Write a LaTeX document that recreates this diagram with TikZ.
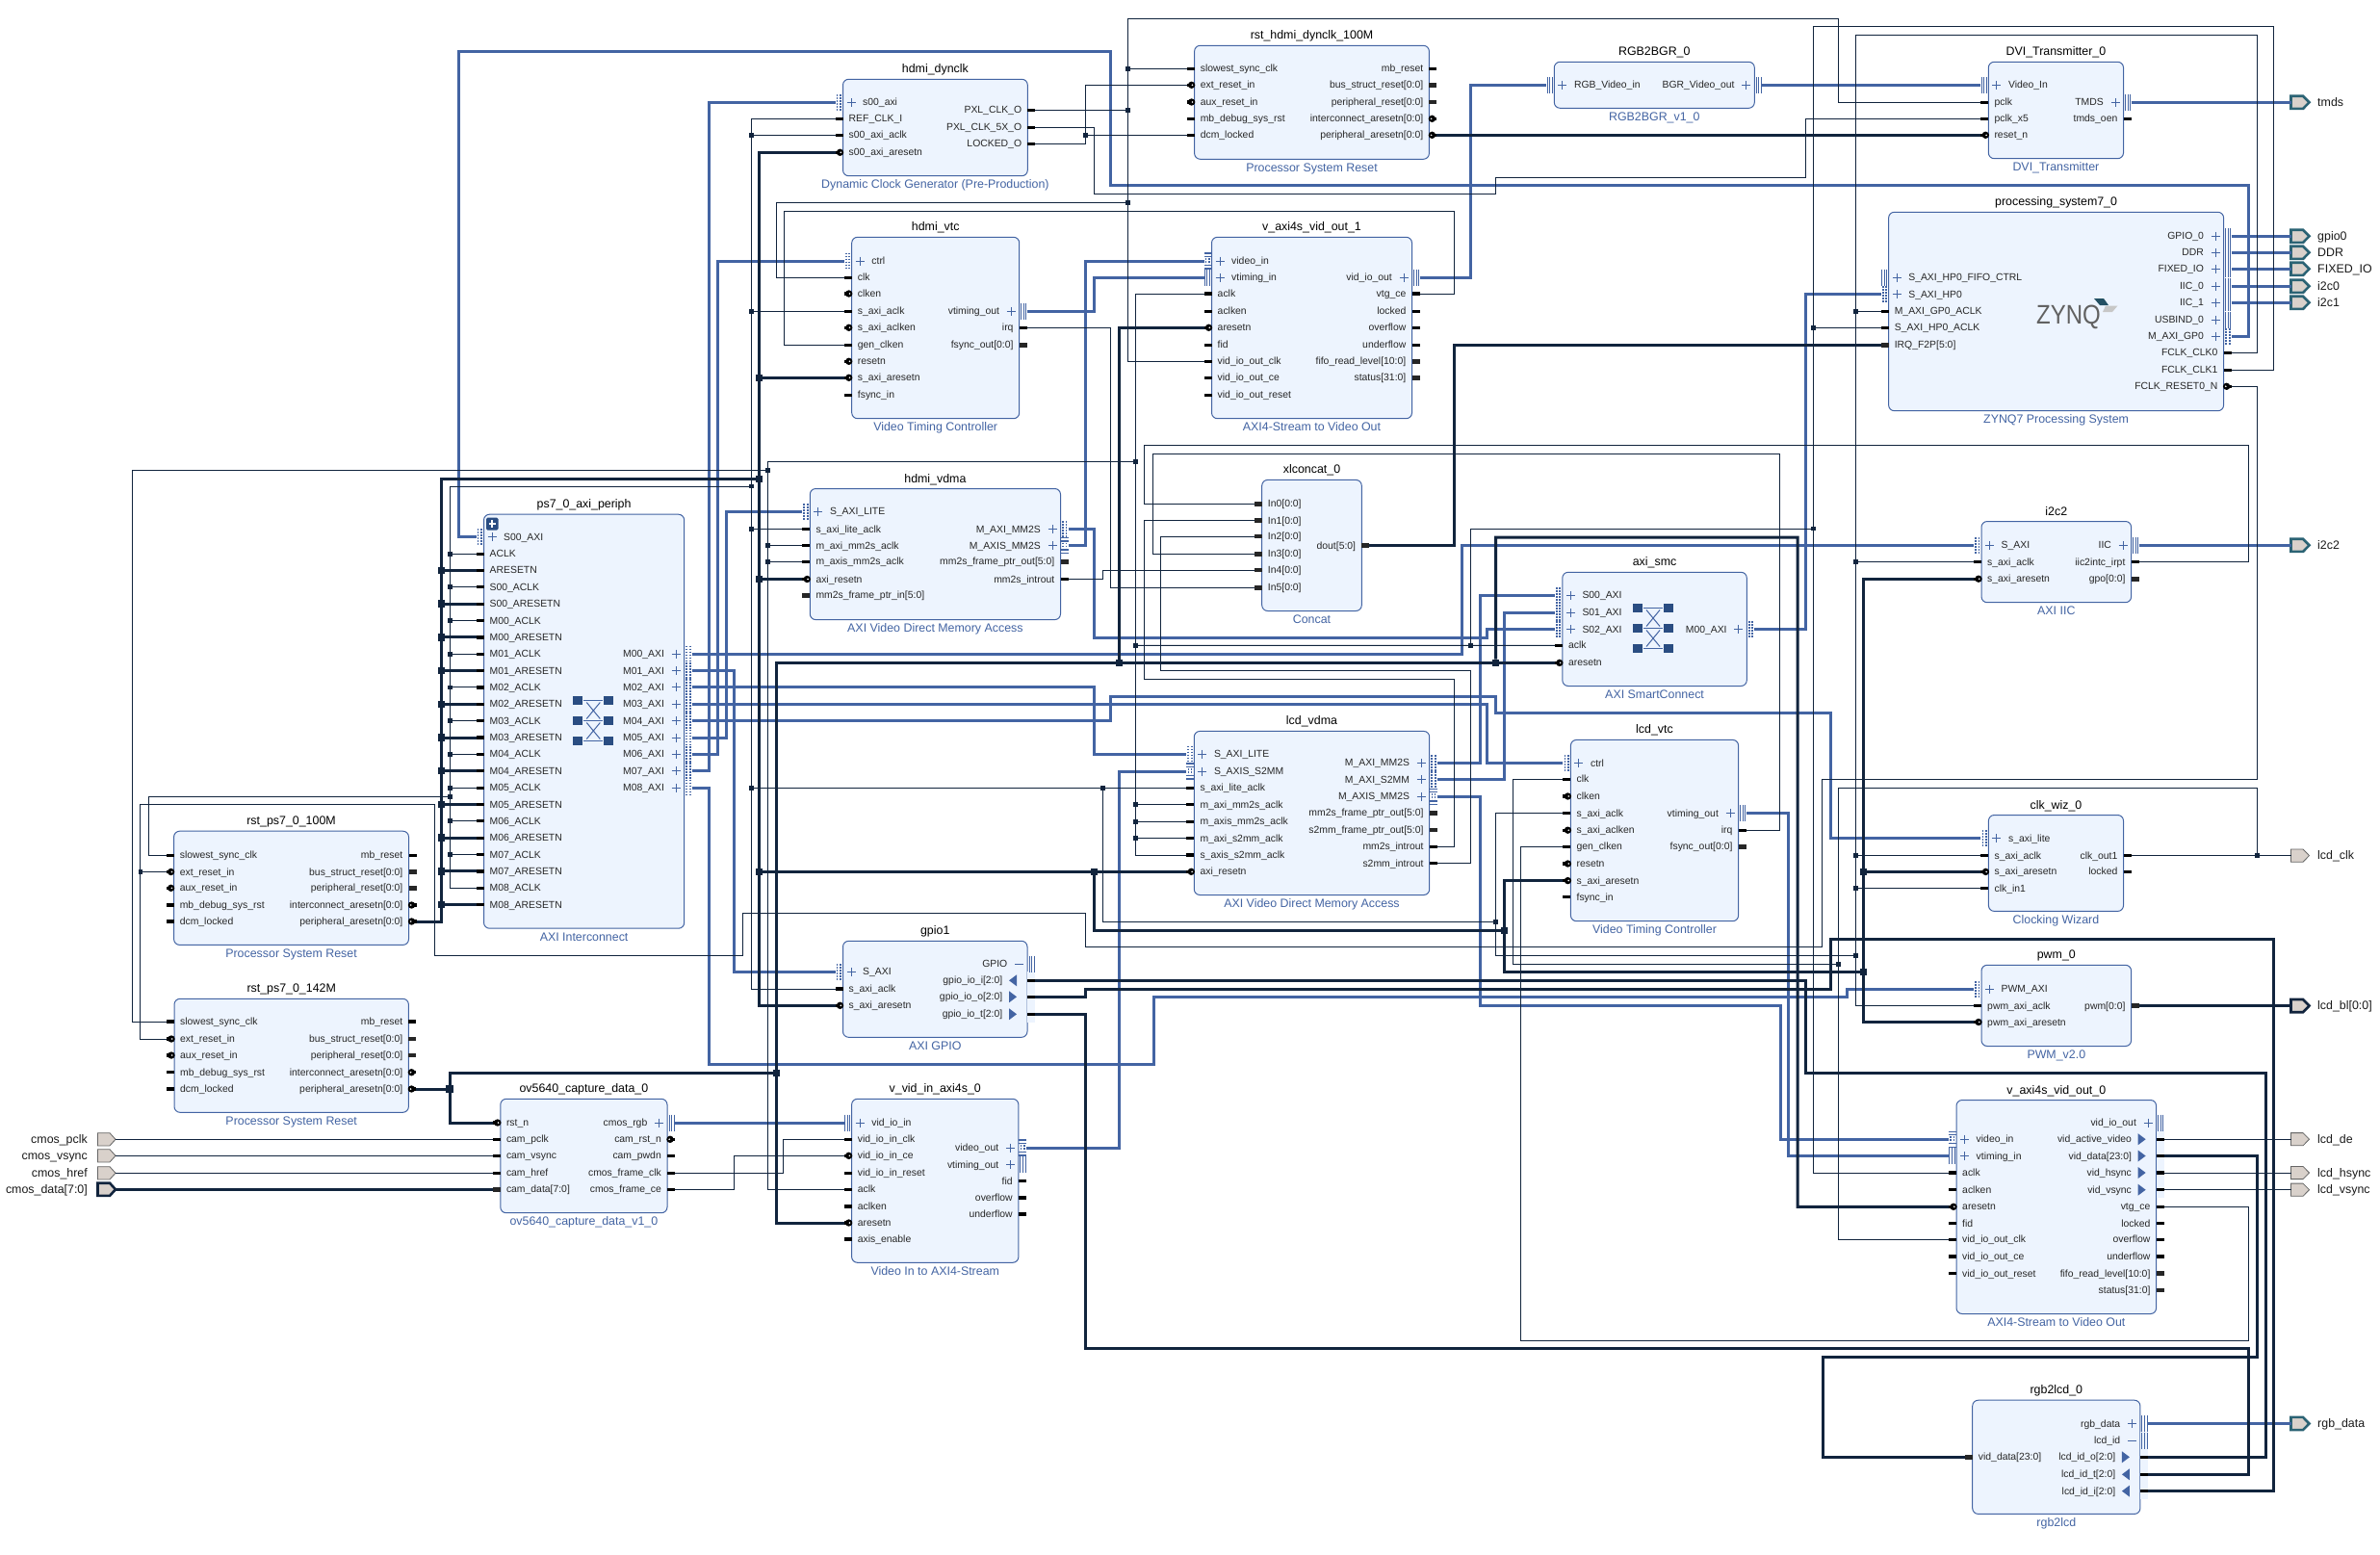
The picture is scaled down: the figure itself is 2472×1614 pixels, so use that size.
\documentclass[tikz,border=0pt]{standalone}
\usepackage{fontspec}
\usepackage{graphicx}
\setmainfont{Liberation Sans}
\definecolor{navy}{HTML}{11243D}
\definecolor{ablue}{HTML}{4364A3}
\definecolor{bfill}{HTML}{EDF4FE}
\definecolor{xbeige}{HTML}{D9D1CB}
\definecolor{xteal}{HTML}{2B6374}
\definecolor{logoblue}{HTML}{2A4D82}
\AtBeginDocument{\catcode`\_=12 }
\tikzset{
 blockbox/.style={draw=ablue,line width=1pt,fill=bfill,rounded corners=6pt,inner sep=0pt,outer sep=0pt},
 ttl/.style={font=\fontsize{12.4}{14}\selectfont,inner sep=0pt,text=black,anchor=base},
 subt/.style={font=\fontsize{12.4}{14}\selectfont,inner sep=0pt,text=ablue,anchor=base},
 plab/.style={font=\fontsize{10.4}{12}\selectfont,inner sep=0pt,text=black!85},
 xlab/.style={font=\fontsize{12.4}{14}\selectfont,inner sep=0pt,text=black!90},
 clkw/.style={draw=navy,line width=1pt},
 rstw/.style={draw=navy,line width=3pt},
 axiw/.style={draw=ablue,line width=3pt},
 jc/.style={fill=navy,inner sep=0pt,minimum size=4.8pt,outer sep=0pt},
 jt/.style={fill=navy,inner sep=0pt,minimum size=7.5pt,outer sep=0pt},
 pinl/.style={draw=ablue,line width=0.9pt},
 dotpin/.style={draw=ablue,line width=1.8pt,dash pattern=on 1.7pt off 1.3pt},
 xs/.style={fill=xbeige,draw=black!60,line width=0.8pt},
 xb/.style={fill=xbeige,draw=navy,line width=2.6pt},
 xi/.style={fill=xbeige,draw=xteal,line width=2.6pt},
}
\newcommand\blk[7]{%
 \def\bxa{#2}\def\bxb{#4}\def\bid{#1}%
 \node[blockbox,minimum width={#4-#2},minimum height={#5-#3}] (#1) at ({(#2+#4)/2},{(#3+#5)/2}) {};%
 \node[ttl] (#1-title) at ({(#2+#4)/2},{#3-6.5}) {#6};%
 \node[subt] (#1-sub) at ({(#2+#4)/2},{#5+12.8}) {#7};%
}
\newcommand\plusmark{%
 \draw[pinl] ({\pe-\pd*8.5-4.5},\py) -- ({\pe-\pd*8.5+4.5},\py);%
 \draw[pinl] ({\pe-\pd*8.5},{\py-4.5}) -- ({\pe-\pd*8.5},{\py+4.5});%
}
\newcommand\triple{%
 \foreach \tt in {2,4.6,7.2}{\draw[pinl] ({\pe+\pd*\tt},{\py-8.5}) -- ({\pe+\pd*\tt},{\py+8.5});}%
}
\newcommand\pkS{\def\po{6}\fill[black] (\pe,{\py-1.6}) rectangle ({\pe+\pd*8},{\py+1.6});}
\newcommand\pkB{\def\po{6}\fill[black!85] (\pe,{\py-2.4}) rectangle ({\pe+\pd*8},{\py+2.4});}
\newcommand\pkR{\def\po{6}\fill[black] (\pe,{\py-1.6}) rectangle ({\pe+\pd*8},{\py+1.6});%
 \fill[black] ({\pe+\pd*3},\py) circle (3.7);\fill[white] ({\pe+\pd*2.2},\py) circle (0.9);}
\newcommand\pkA{\def\po{20.5}\plusmark
 \draw[dotpin] ({\pe+\pd*2.6},{\py-8.5}) -- ({\pe+\pd*2.6},{\py+8.5});%
 \draw[dotpin] ({\pe+\pd*6},{\py-8.5}) -- ({\pe+\pd*6},{\py+8.5});}
\newcommand\pkV{\def\po{20.5}\plusmark\triple}
\newcommand\pkM{\def\po{20.5}\plusmark
 \foreach \tt in {-8,-4.6,4.6,8}{\draw[pinl,line width=1.3pt] (\pe,{\py+\tt}) -- ({\pe+\pd*8},{\py+\tt});}%
 \draw[dotpin,line width=1.4pt] ({\pe+\pd*2.6},{\py-3}) -- ({\pe+\pd*2.6},{\py+3});%
 \draw[dotpin,line width=1.4pt] ({\pe+\pd*6},{\py-3}) -- ({\pe+\pd*6},{\py+3});}
\newcommand\pkN{\def\po{20.5}\triple\draw[pinl] ({\pe-\pd*13},\py) -- ({\pe-\pd*4},\py);}
\newcommand\pkO{\def\po{25.5}\fill[black] (\pe,{\py-1.6}) rectangle ({\pe+\pd*8},{\py+1.6});%
 \fill[ablue] ({\pe-19},{\py-6}) -- ({\pe-11},\py) -- ({\pe-19},{\py+6}) -- cycle;}
\newcommand\pkI{\def\po{25.5}\fill[black] (\pe,{\py-1.6}) rectangle ({\pe+\pd*8},{\py+1.6});%
 \fill[ablue] ({\pe-11},{\py-6}) -- ({\pe-19},\py) -- ({\pe-11},{\py+6}) -- cycle;}
\newcommand\pin[5]{%
 \def\py{#3}%
 \ifx L#2\def\pe{\bxa}\def\pd{-1}\def\pan{base west}\else\def\pe{\bxb}\def\pd{1}\def\pan{base east}\fi
 \coordinate (\bid-#1) at ({\pe+\pd*8},\py);%
 \csname pk#4\endcsname
 \node[plab,anchor=\pan] (\bid-#1-l) at ({\pe-\pd*\po},{\py+3.5}) {#5};%
}
\newcommand\xout[4]{%
 \draw[#4] (2379.5,{#2-6.6}) -- (2392,{#2-6.6}) -- (2398.5,#2) -- (2392,{#2+6.6}) -- (2379.5,{#2+6.6}) -- cycle;%
 \coordinate (x-#1) at (2379.5,#2);%
 \node[xlab,anchor=base west] (x-#1-l) at (2407,{#2+4.2}) {#3};%
}
\newcommand\xin[4]{%
 \draw[#4] (101.5,{#2-6.6}) -- (114,{#2-6.6}) -- (120,#2) -- (114,{#2+6.6}) -- (101.5,{#2+6.6}) -- cycle;%
 \coordinate (x-#1) at (120,#2);%
 \node[xlab,anchor=base east] (x-#1-l) at (91,{#2+4.2}) {#3};%
}
\newcommand\xbarlogo[2]{%
 \foreach \ry in {-21,0,21}{%
  \fill[logoblue] ({#1-21},{#2+\ry-4.5}) rectangle ({#1-11},{#2+\ry+4.5});%
  \fill[logoblue] ({#1+11},{#2+\ry-4.5}) rectangle ({#1+21},{#2+\ry+4.5});%
  \draw[ablue,line width=1.2pt] ({#1-10},{#2+\ry}) -- ({#1+10},{#2+\ry});%
 }%
 \draw[ablue,line width=1pt] ({#1-7},{#2-19}) -- ({#1+7},{#2-2}) ({#1+7},{#2-19}) -- ({#1-7},{#2-2});%
 \draw[ablue,line width=1pt] ({#1-7},{#2+2}) -- ({#1+7},{#2+19}) ({#1+7},{#2+2}) -- ({#1-7},{#2+19});%
}
\begin{document}
\begin{tikzpicture}[x=1pt,y=-1pt]
\useasboundingbox (0,0) rectangle (2472,1614);
\fill[white] (0,0) rectangle (2472,1614);
% ---------- blocks ----------
\blk{axi}{502.5}{534.2}{710.7}{964.2}{ps7_0_axi_periph}{AXI Interconnect}
\pin{S0}{L}{557.7}{A}{S00_AXI}
\pin{aclk}{L}{575.1}{S}{ACLK}
\pin{arst}{L}{592.4}{S}{ARESETN}
\pin{s0c}{L}{609.8}{S}{S00_ACLK}
\pin{s0r}{L}{627.1}{S}{S00_ARESETN}
\pin{m0c}{L}{644.5}{S}{M00_ACLK}
\pin{m0r}{L}{661.9}{S}{M00_ARESETN}
\pin{m1c}{L}{679.2}{S}{M01_ACLK}
\pin{m1r}{L}{696.6}{S}{M01_ARESETN}
\pin{m2c}{L}{713.9}{S}{M02_ACLK}
\pin{m2r}{L}{731.3}{S}{M02_ARESETN}
\pin{m3c}{L}{748.7}{S}{M03_ACLK}
\pin{m3r}{L}{766.0}{S}{M03_ARESETN}
\pin{m4c}{L}{783.4}{S}{M04_ACLK}
\pin{m4r}{L}{800.7}{S}{M04_ARESETN}
\pin{m5c}{L}{818.1}{S}{M05_ACLK}
\pin{m5r}{L}{835.5}{S}{M05_ARESETN}
\pin{m6c}{L}{852.8}{S}{M06_ACLK}
\pin{m6r}{L}{870.2}{S}{M06_ARESETN}
\pin{m7c}{L}{887.5}{S}{M07_ACLK}
\pin{m7r}{L}{904.9}{S}{M07_ARESETN}
\pin{m8c}{L}{922.3}{S}{M08_ACLK}
\pin{m8r}{L}{939.6}{S}{M08_ARESETN}
\pin{M0}{R}{679.2}{A}{M00_AXI}
\pin{M1}{R}{696.6}{A}{M01_AXI}
\pin{M2}{R}{713.9}{A}{M02_AXI}
\pin{M3}{R}{731.3}{A}{M03_AXI}
\pin{M4}{R}{748.7}{A}{M04_AXI}
\pin{M5}{R}{766.0}{A}{M05_AXI}
\pin{M6}{R}{783.4}{A}{M06_AXI}
\pin{M7}{R}{800.7}{A}{M07_AXI}
\pin{M8}{R}{818.1}{A}{M08_AXI}
\xbarlogo{616.3}{748.5}
\fill[logoblue,rounded corners=1.5pt] (505,537.5) rectangle (517.5,550.5);
\draw[white,line width=1.8pt] (511.2,540) -- (511.2,548) (507.5,544) -- (515,544);

\blk{rstA}{180.6}{863.2}{424.5}{981.4}{rst_ps7_0_100M}{Processor System Reset}
\pin{sl}{L}{888.4}{S}{slowest_sync_clk}
\pin{ex}{L}{905.5}{R}{ext_reset_in}
\pin{au}{L}{922.3}{R}{aux_reset_in}
\pin{mb}{L}{940}{S}{mb_debug_sys_rst}
\pin{dc}{L}{957}{S}{dcm_locked}
\pin{mr}{R}{888.4}{S}{mb_reset}
\pin{bs}{R}{905.5}{B}{bus_struct_reset[0:0]}
\pin{pr}{R}{922.3}{B}{peripheral_reset[0:0]}
\pin{ia}{R}{940}{R}{interconnect_aresetn[0:0]}
\pin{pa}{R}{957}{R}{peripheral_aresetn[0:0]}

\blk{rstB}{181}{1037.3}{424.4}{1155.3}{rst_ps7_0_142M}{Processor System Reset}
\pin{sl}{L}{1061}{S}{slowest_sync_clk}
\pin{ex}{L}{1079}{R}{ext_reset_in}
\pin{au}{L}{1096}{R}{aux_reset_in}
\pin{mb}{L}{1113.7}{S}{mb_debug_sys_rst}
\pin{dc}{L}{1131}{S}{dcm_locked}
\pin{mr}{R}{1061}{S}{mb_reset}
\pin{bs}{R}{1079}{B}{bus_struct_reset[0:0]}
\pin{pr}{R}{1096}{B}{peripheral_reset[0:0]}
\pin{ia}{R}{1113.7}{R}{interconnect_aresetn[0:0]}
\pin{pa}{R}{1131}{R}{peripheral_aresetn[0:0]}

\blk{ov}{519.8}{1141.3}{693}{1259.7}{ov5640_capture_data_0}{ov5640_capture_data_v1_0}
\pin{rst}{L}{1166}{R}{rst_n}
\pin{pc}{L}{1183.3}{S}{cam_pclk}
\pin{vs}{L}{1200.3}{S}{cam_vsync}
\pin{hr}{L}{1218.3}{S}{cam_href}
\pin{dt}{L}{1235.3}{B}{cam_data[7:0]}
\pin{rgb}{R}{1166}{V}{cmos_rgb}
\pin{cr}{R}{1183.3}{R}{cam_rst_n}
\pin{pw}{R}{1200.3}{S}{cam_pwdn}
\pin{fc}{R}{1218.3}{S}{cmos_frame_clk}
\pin{fe}{R}{1235.3}{S}{cmos_frame_ce}

\blk{vin}{884.6}{1141.3}{1057.9}{1311.3}{v_vid_in_axi4s_0}{Video In to AXI4-Stream}
\pin{in}{L}{1166}{V}{vid_io_in}
\pin{ck0}{L}{1183.3}{S}{vid_io_in_clk}
\pin{ce}{L}{1200.3}{R}{vid_io_in_ce}
\pin{rs0}{L}{1218.3}{S}{vid_io_in_reset}
\pin{ck}{L}{1235.3}{S}{aclk}
\pin{cen}{L}{1253}{S}{aclken}
\pin{rs}{L}{1270}{R}{aresetn}
\pin{en}{L}{1287}{S}{axis_enable}
\pin{vo}{R}{1192}{M}{video_out}
\pin{vt}{R}{1209.7}{V}{vtiming_out}
\pin{fid}{R}{1226.7}{S}{fid}
\pin{of}{R}{1244}{S}{overflow}
\pin{uf}{R}{1261}{S}{underflow}

\blk{gpio}{875.5}{977.3}{1067}{1077.3}{gpio1}{AXI GPIO}
\fill[bfill] (1067,1009) rectangle (1075,1062);
\pin{s}{L}{1009.3}{A}{S_AXI}
\pin{ck}{L}{1027}{S}{s_axi_aclk}
\pin{rs}{L}{1044.3}{R}{s_axi_aresetn}
\pin{G}{R}{1001}{N}{GPIO}
\pin{i}{R}{1018.3}{I}{gpio_io_i[2:0]}
\pin{o}{R}{1035.3}{O}{gpio_io_o[2:0]}
\pin{t}{R}{1053.3}{O}{gpio_io_t[2:0]}

\blk{dyn}{875.5}{82.3}{1067.3}{182.7}{hdmi_dynclk}{Dynamic Clock Generator (Pre-Production)}
\pin{s}{L}{106.3}{A}{s00_axi}
\pin{ref}{L}{123.3}{S}{REF_CLK_I}
\pin{ck}{L}{140.3}{S}{s00_axi_aclk}
\pin{rs}{L}{158.3}{R}{s00_axi_aresetn}
\pin{px}{R}{114.3}{S}{PXL_CLK_O}
\pin{p5}{R}{132.3}{S}{PXL_CLK_5X_O}
\pin{lk}{R}{149.3}{S}{LOCKED_O}

\blk{vtc}{884.7}{246.3}{1058.7}{434.7}{hdmi_vtc}{Video Timing Controller}
\pin{ctrl}{L}{271}{A}{ctrl}
\pin{clk}{L}{288.3}{S}{clk}
\pin{cen}{L}{305}{R}{clken}
\pin{ck}{L}{323.3}{S}{s_axi_aclk}
\pin{acen}{L}{340.3}{R}{s_axi_aclken}
\pin{gen}{L}{358.3}{S}{gen_clken}
\pin{rsn}{L}{375.3}{R}{resetn}
\pin{rs}{L}{392.3}{R}{s_axi_aresetn}
\pin{fi}{L}{410.3}{S}{fsync_in}
\pin{vt}{R}{323.3}{V}{vtiming_out}
\pin{irq}{R}{340.3}{S}{irq}
\pin{fo}{R}{358.3}{B}{fsync_out[0:0]}

\blk{rstH}{1240.6}{47.3}{1484.4}{165.3}{rst_hdmi_dynclk_100M}{Processor System Reset}
\pin{sl}{L}{71.3}{S}{slowest_sync_clk}
\pin{ex}{L}{88.3}{R}{ext_reset_in}
\pin{au}{L}{106}{R}{aux_reset_in}
\pin{mb}{L}{123.3}{S}{mb_debug_sys_rst}
\pin{dc}{L}{140.3}{S}{dcm_locked}
\pin{mr}{R}{71.3}{S}{mb_reset}
\pin{bs}{R}{88.3}{B}{bus_struct_reset[0:0]}
\pin{pr}{R}{106}{B}{peripheral_reset[0:0]}
\pin{ia}{R}{123.3}{R}{interconnect_aresetn[0:0]}
\pin{pa}{R}{140.3}{R}{peripheral_aresetn[0:0]}

\blk{rgb}{1614.3}{64.3}{1822.3}{112.3}{RGB2BGR_0}{RGB2BGR_v1_0}
\pin{in}{L}{88.3}{V}{RGB_Video_in}
\pin{out}{R}{88.3}{V}{BGR_Video_out}

\blk{vo1}{1258.5}{246.3}{1466.5}{434.7}{v_axi4s_vid_out_1}{AXI4-Stream to Video Out}
\pin{vi}{L}{271}{M}{video_in}
\pin{vt}{L}{288.3}{V}{vtiming_in}
\pin{ck}{L}{305}{S}{aclk}
\pin{cen}{L}{323.3}{S}{aclken}
\pin{rs}{L}{340.3}{R}{aresetn}
\pin{fid}{L}{358.3}{S}{fid}
\pin{clk}{L}{375.3}{S}{vid_io_out_clk}
\pin{ce}{L}{392.3}{S}{vid_io_out_ce}
\pin{rst}{L}{410.3}{S}{vid_io_out_reset}
\pin{out}{R}{288.3}{V}{vid_io_out}
\pin{vtg}{R}{305}{S}{vtg_ce}
\pin{lk}{R}{323.3}{S}{locked}
\pin{of}{R}{340.3}{S}{overflow}
\pin{uf}{R}{358.3}{S}{underflow}
\pin{fl}{R}{375.3}{B}{fifo_read_level[10:0]}
\pin{st}{R}{392.3}{B}{status[31:0]}

\blk{dvi}{2065.3}{64.3}{2205.5}{164.7}{DVI_Transmitter_0}{DVI_Transmitter}
\pin{in}{L}{88.3}{V}{Video_In}
\pin{pclk}{L}{106.3}{S}{pclk}
\pin{x5}{L}{123.3}{S}{pclk_x5}
\pin{rs}{L}{140.3}{R}{reset_n}
\pin{tmds}{R}{106.3}{V}{TMDS}
\pin{oen}{R}{123.3}{S}{tmds_oen}

\blk{ps}{1961.6}{220.3}{2309.6}{426.7}{processing_system7_0}{ZYNQ7 Processing System}
\pin{fifo}{L}{288}{V}{S_AXI_HP0_FIFO_CTRL}
\pin{hp0}{L}{305.7}{A}{S_AXI_HP0}
\pin{gpck}{L}{323.3}{S}{M_AXI_GP0_ACLK}
\pin{hpck}{L}{340.3}{S}{S_AXI_HP0_ACLK}
\pin{irq}{L}{358.3}{B}{IRQ_F2P[5:0]}
\pin{gpio}{R}{245.3}{V}{GPIO_0}
\pin{ddr}{R}{262.3}{V}{DDR}
\pin{fix}{R}{279.3}{V}{FIXED_IO}
\pin{iic0}{R}{297.3}{V}{IIC_0}
\pin{iic1}{R}{314.3}{V}{IIC_1}
\pin{usb}{R}{332.3}{V}{USBIND_0}
\pin{gp0}{R}{349.3}{A}{M_AXI_GP0}
\pin{ck0}{R}{366.3}{S}{FCLK_CLK0}
\pin{ck1}{R}{384.3}{S}{FCLK_CLK1}
\pin{rn}{R}{401.3}{R}{FCLK_RESET0_N}
\node[anchor=base west,inner sep=0pt,text=black!62,font=\fontsize{24}{24}\selectfont] (zynqlogo) at (2115,336.5) {\scalebox{1}[1.16]{ZYNQ}};
\fill[xteal!70!navy] (2175,310) -- (2185,310) -- (2190,317) -- (2181,317) -- cycle;
\fill[black!22] (2187,317.5) -- (2199.5,317.5) -- (2194,324) -- (2184,324) -- cycle;

\blk{hv}{841.3}{507.5}{1101.5}{643.6}{hdmi_vdma}{AXI Video Direct Memory Access}
\pin{lite}{L}{531.4}{A}{S_AXI_LITE}
\pin{ck}{L}{549.6}{S}{s_axi_lite_aclk}
\pin{ck2}{L}{566.5}{S}{m_axi_mm2s_aclk}
\pin{ck3}{L}{583.3}{S}{m_axis_mm2s_aclk}
\pin{rs}{L}{601.5}{R}{axi_resetn}
\pin{fi}{L}{618.4}{B}{mm2s_frame_ptr_in[5:0]}
\pin{mm}{R}{549.6}{A}{M_AXI_MM2S}
\pin{axis}{R}{566.5}{M}{M_AXIS_MM2S}
\pin{fo}{R}{583.3}{B}{mm2s_frame_ptr_out[5:0]}
\pin{irq}{R}{601.5}{S}{mm2s_introut}

\blk{con}{1310.7}{498.4}{1414.3}{634.5}{xlconcat_0}{Concat}
\pin{i0}{L}{523.3}{B}{In0[0:0]}
\pin{i1}{L}{540.5}{B}{In1[0:0]}
\pin{i2}{L}{557}{B}{In2[0:0]}
\pin{i3}{L}{575.2}{B}{In3[0:0]}
\pin{i4}{L}{592}{B}{In4[0:0]}
\pin{i5}{L}{610.3}{B}{In5[0:0]}
\pin{d}{R}{566.5}{B}{dout[5:0]}

\blk{lv}{1240.3}{759.4}{1484.7}{929.5}{lcd_vdma}{AXI Video Direct Memory Access}
\pin{lite}{L}{783.2}{A}{S_AXI_LITE}
\pin{s2}{L}{801}{M}{S_AXIS_S2MM}
\pin{lck}{L}{818.3}{S}{s_axi_lite_aclk}
\pin{c1}{L}{835.5}{S}{m_axi_mm2s_aclk}
\pin{c2}{L}{853.4}{S}{m_axis_mm2s_aclk}
\pin{c3}{L}{870.6}{S}{m_axi_s2mm_aclk}
\pin{c4}{L}{888}{S}{s_axis_s2mm_aclk}
\pin{rs}{L}{905.3}{R}{axi_resetn}
\pin{mm}{R}{792.3}{A}{M_AXI_MM2S}
\pin{sm}{R}{809.5}{A}{M_AXI_S2MM}
\pin{axis}{R}{827.4}{M}{M_AXIS_MM2S}
\pin{f1}{R}{844.2}{B}{mm2s_frame_ptr_out[5:0]}
\pin{f2}{R}{862}{B}{s2mm_frame_ptr_out[5:0]}
\pin{mi}{R}{879.3}{S}{mm2s_introut}
\pin{si}{R}{896.5}{S}{s2mm_introut}

\blk{smc}{1622.8}{594.3}{1814.3}{712.5}{axi_smc}{AXI SmartConnect}
\pin{s0}{L}{618.4}{A}{S00_AXI}
\pin{s1}{L}{636.4}{A}{S01_AXI}
\pin{s2}{L}{653.6}{A}{S02_AXI}
\pin{ck}{L}{670.4}{S}{aclk}
\pin{rs}{L}{688.4}{R}{aresetn}
\pin{m}{R}{653.6}{A}{M00_AXI}
\xbarlogo{1717}{652.5}

\blk{i2c}{2058}{541.5}{2213.6}{625.7}{i2c2}{AXI IIC}
\pin{s}{L}{566.3}{A}{S_AXI}
\pin{ck}{L}{583.6}{S}{s_axi_aclk}
\pin{rs}{L}{601.2}{R}{s_axi_aresetn}
\pin{iic}{R}{566.3}{V}{IIC}
\pin{irq}{R}{583.6}{S}{iic2intc_irpt}
\pin{gpo}{R}{601.2}{B}{gpo[0:0]}

\blk{lvt}{1631.4}{768.4}{1805.6}{956.7}{lcd_vtc}{Video Timing Controller}
\pin{ctrl}{L}{792.5}{A}{ctrl}
\pin{clk}{L}{809.4}{S}{clk}
\pin{cen}{L}{827}{R}{clken}
\pin{ck}{L}{844.6}{S}{s_axi_aclk}
\pin{acen}{L}{862.2}{R}{s_axi_aclken}
\pin{gen}{L}{879.4}{S}{gen_clken}
\pin{rsn}{L}{897}{R}{resetn}
\pin{rs}{L}{914.6}{R}{s_axi_aresetn}
\pin{fi}{L}{931.8}{S}{fsync_in}
\pin{vt}{R}{844.6}{V}{vtiming_out}
\pin{irq}{R}{862.2}{S}{irq}
\pin{fo}{R}{879.4}{B}{fsync_out[0:0]}

\blk{clk}{2065.4}{846.5}{2205.5}{946.4}{clk_wiz_0}{Clocking Wizard}
\pin{lite}{L}{870.6}{A}{s_axi_lite}
\pin{ck}{L}{888.6}{S}{s_axi_aclk}
\pin{rs}{L}{905.4}{R}{s_axi_aresetn}
\pin{in}{L}{922.6}{S}{clk_in1}
\pin{o}{R}{888.6}{S}{clk_out1}
\pin{lk}{R}{905.4}{S}{locked}

\blk{pwm}{2058}{1002.3}{2213.6}{1086.5}{pwm_0}{PWM_v2.0}
\pin{s}{L}{1027.4}{A}{PWM_AXI}
\pin{ck}{L}{1044.6}{S}{pwm_axi_aclk}
\pin{rs}{L}{1061.5}{R}{pwm_axi_aresetn}
\pin{o}{R}{1044.6}{B}{pwm[0:0]}

\blk{vo0}{2032}{1142.5}{2239.6}{1364.5}{v_axi4s_vid_out_0}{AXI4-Stream to Video Out}
\fill[bfill] (2239.6,1174) rectangle (2247.6,1244);
\pin{vi}{L}{1183.2}{M}{video_in}
\pin{vt}{L}{1200.5}{V}{vtiming_in}
\pin{ck}{L}{1218}{S}{aclk}
\pin{cen}{L}{1235.7}{S}{aclken}
\pin{rs}{L}{1253.3}{R}{aresetn}
\pin{fid}{L}{1270.6}{S}{fid}
\pin{clk}{L}{1287.4}{S}{vid_io_out_clk}
\pin{ce}{L}{1305}{S}{vid_io_out_ce}
\pin{rst}{L}{1322.6}{S}{vid_io_out_reset}
\pin{out}{R}{1166}{V}{vid_io_out}
\pin{de}{R}{1183.2}{O}{vid_active_video}
\pin{d}{R}{1200.5}{O}{vid_data[23:0]}
\pin{hs}{R}{1218}{O}{vid_hsync}
\pin{vs}{R}{1235.7}{O}{vid_vsync}
\pin{vtg}{R}{1253.3}{S}{vtg_ce}
\pin{lk}{R}{1270.6}{S}{locked}
\pin{of}{R}{1287.4}{S}{overflow}
\pin{uf}{R}{1305}{S}{underflow}
\pin{fl}{R}{1322.6}{B}{fifo_read_level[10:0]}
\pin{st}{R}{1339.9}{B}{status[31:0]}

\blk{r2l}{2048.7}{1454.2}{2222.9}{1572.4}{rgb2lcd_0}{rgb2lcd}
\fill[bfill] (2222.9,1487) rectangle (2230.9,1557);
\pin{vd}{L}{1513.3}{B}{vid_data[23:0]}
\pin{rgb}{R}{1478.5}{V}{rgb_data}
\pin{id}{R}{1496}{N}{lcd_id}
\pin{o}{R}{1513.3}{O}{lcd_id_o[2:0]}
\pin{t}{R}{1531.3}{I}{lcd_id_t[2:0]}
\pin{i}{R}{1548.6}{I}{lcd_id_i[2:0]}

% ---------- external ports ----------
\xout{tmds}{106.3}{tmds}{xi}
\xout{gpio0}{245.3}{gpio0}{xi}
\xout{ddr}{262.3}{DDR}{xi}
\xout{fixed}{279.3}{FIXED_IO}{xi}
\xout{iic0}{297.3}{i2c0}{xi}
\xout{iic1}{314.3}{i2c1}{xi}
\xout{iic2}{566.3}{i2c2}{xi}
\xout{lclk}{888.6}{lcd_clk}{xs}
\xout{lbl}{1044.6}{lcd_bl[0:0]}{xb}
\xout{lde}{1183.2}{lcd_de}{xs}
\xout{lhs}{1218}{lcd_hsync}{xs}
\xout{lvs}{1235.7}{lcd_vsync}{xs}
\xout{rgbd}{1478.5}{rgb_data}{xi}
\xin{cp}{1183.3}{cmos_pclk}{xs}
\xin{cv}{1200.3}{cmos_vsync}{xs}
\xin{ch}{1218.3}{cmos_href}{xs}
\xin{cd}{1235.3}{cmos_data[7:0]}{xb}

% ---------- interface (blue) connectors ----------
\draw[axiw] (axi-S0) -- (476.5,557.7) -- (476.5,53.3) -- (1153.6,53.3) -- (1153.6,192.3) -- (2335.8,192.3) -- (2335.8,349.3) -- (ps-gp0);
\draw[axiw] (axi-M0) -- (1518.8,679.2) -- (1518.8,566.3) -- (i2c-s);
\draw[axiw] (axi-M1) -- (762.3,696.6) -- (762.3,1009.3) -- (gpio-s);
\draw[axiw] (axi-M2) -- (1136.6,713.9) -- (1136.6,783.2) -- (lv-lite);
\draw[axiw] (axi-M3) -- (1544.8,731.3) -- (1544.8,792.5) -- (lvt-ctrl);
\draw[axiw] (axi-M4) -- (1153.8,748.7) -- (1153.8,723.5) -- (1553.7,723.5) -- (1553.7,740.6) -- (1901,740.6) -- (1901,870.6) -- (clk-lite);
\draw[axiw] (axi-M5) -- (754.4,766) -- (754.4,531.4) -- (hv-lite);
\draw[axiw] (axi-M6) -- (745.4,783.4) -- (745.4,271) -- (vtc-ctrl);
\draw[axiw] (axi-M7) -- (736.4,800.7) -- (736.4,106.3) -- (dyn-s);
\draw[axiw] (axi-M8) -- (736.4,818.1) -- (736.4,1105.3) -- (1198,1105.3) -- (1198,1035.5) -- (1918.3,1035.5) -- (1918.3,1027.4) -- (pwm-s);
\draw[axiw] (vtc-vt) -- (1136.7,323.3) -- (1136.7,288.3) -- (vo1-vt);
\draw[axiw] (vo1-vi) -- (1127.6,271) -- (1127.6,566.5) -- (hv-axis);
\draw[axiw] (hv-mm) -- (1136.7,549.6) -- (1136.7,662.3) -- (1544.7,662.3) -- (1544.7,653.6) -- (smc-s2);
\draw[axiw] (lv-mm) -- (1537,792.3) -- (1537,618.4) -- (smc-s0);
\draw[axiw] (lv-sm) -- (1562.7,809.5) -- (1562.7,636.4) -- (smc-s1);
\draw[axiw] (lv-axis) -- (1537,827.4) -- (1537,1044.3) -- (1849,1044.3) -- (1849,1183.2) -- (vo0-vi);
\draw[axiw] (vin-vo) -- (1162.4,1192) -- (1162.4,801) -- (lv-s2);
\draw[axiw] (smc-m) -- (1875.5,653.6) -- (1875.5,305.7) -- (ps-hp0);
\draw[axiw] (lvt-vt) -- (1857.7,844.6) -- (1857.7,1200.5) -- (vo0-vt);
\draw[axiw] (vo1-out) -- (1527.7,288.3) -- (1527.7,88.3) -- (rgb-in);
\draw[axiw] (rgb-out) -- (dvi-in);
\draw[axiw] (ov-rgb) -- (vin-in);
\draw[axiw] (dvi-tmds) -- (x-tmds);
\draw[axiw] (ps-gpio) -- (x-gpio0);
\draw[axiw] (ps-ddr) -- (x-ddr);
\draw[axiw] (ps-fix) -- (x-fixed);
\draw[axiw] (ps-iic0) -- (x-iic0);
\draw[axiw] (ps-iic1) -- (x-iic1);
\draw[axiw] (i2c-iic) -- (x-iic2);
\draw[axiw] (r2l-rgb) -- (x-rgbd);

% ---------- junctions ----------
\foreach \n/\yy in {arst/592.4,s0r/627.1,m0r/661.9,m1r/696.6,m2r/731.3,m3r/766.0,m4r/800.7,m5r/835.5,m6r/870.2,m7r/904.9,m8r/939.6}{
 \node[jt] (jr-\n) at (458.7,\yy) {};
 \draw[rstw] (axi-\n) -- (jr-\n);
}
\foreach \n/\yy in {aclk/575.1,s0c/609.8,m0c/644.5,m1c/679.2,m2c/713.9,m3c/748.7,m4c/783.4,m5c/818.1,m6c/852.8,m7c/887.5}{
 \node[jc] (jk-\n) at (467.3,\yy) {};
 \draw[clkw] (axi-\n) -- (jk-\n);
}
\node[jt] (t1) at (788.3,497.4) {};
\node[jt] (t2) at (788.3,392.3) {};
\node[jt] (t3) at (788.3,601.5) {};
\node[jt] (t4) at (788.3,905.3) {};
\node[jt] (t5) at (1136.6,905.3) {};
\node[jt] (t6) at (1562.3,966.3) {};
\node[jt] (t7) at (1935.3,1009.3) {};
\node[jt] (t8) at (1935.3,905.4) {};
\node[jt] (t9) at (467.2,1131) {};
\node[jt] (t10) at (806.7,1114.3) {};
\node[jt] (t11) at (1162.4,688.4) {};
\node[jt] (t12) at (1553.5,688.4) {};
\node[jc] (c1) at (1927.3,323.3) {};
\node[jc] (c2) at (1927.3,583.6) {};
\node[jc] (c3) at (1927.3,888.6) {};
\node[jc] (c4) at (1927.3,922.6) {};
\node[jc] (c5) at (1927.3,992.5) {};
\node[jc] (c6) at (1553.3,957.5) {};
\node[jc] (c7) at (1145.4,818.3) {};
\node[jc] (c8) at (780.6,818.3) {};
\node[jc] (c9) at (780.6,140.3) {};
\node[jc] (c10) at (780.6,323.3) {};
\node[jc] (c11) at (780.6,505) {};
\node[jc] (c12) at (780.6,549.6) {};
\node[jc] (c13) at (467.3,827.4) {};
\node[jc] (c14) at (1883.4,340.3) {};
\node[jc] (c15) at (1883.4,549) {};
\node[jc] (c16) at (1527.5,670.3) {};
\node[jc] (c17) at (1179.6,670.3) {};
\node[jc] (c18) at (1179.6,479.3) {};
\node[jc] (c19) at (1179.6,835.5) {};
\node[jc] (c20) at (1179.6,853.4) {};
\node[jc] (c21) at (1179.6,870.6) {};
\node[jc] (c22) at (797.4,488.2) {};
\node[jc] (c23) at (797.4,566.5) {};
\node[jc] (c24) at (797.4,583.3) {};
\node[jc] (c25) at (1171.4,71.3) {};
\node[jc] (c26) at (1171.4,114.3) {};
\node[jc] (c27) at (1171.4,210.3) {};
\node[jc] (c28) at (1127.6,140.3) {};
\node[jc] (c29) at (145.9,905.5) {};
\node[jc] (c30) at (1909.5,1001.4) {};
\node[jc] (c31) at (2344.4,888.6) {};

% ---------- reset and bus connectors ----------
\draw[rstw] (rstA-pa) -- (458.7,957) -- (458.7,497.4) -- (t1);
\draw[rstw] (dyn-rs) -- (788.3,158.3) -- (788.3,1044.3) -- (gpio-rs);
\draw[rstw] (vtc-rs) -- (t2);
\draw[rstw] (hv-rs) -- (t3);
\draw[rstw] (lv-rs) -- (t5) -- (t4);
\draw[rstw] (t5) -- (1136.6,966.3) -- (t6);
\draw[rstw] (lvt-rs) -- (1562.3,914.6) -- (1562.3,1009.3) -- (t7);
\draw[rstw] (i2c-rs) -- (1935.3,601.2) -- (1935.3,1061.5) -- (pwm-rs);
\draw[rstw] (clk-rs) -- (t8);
\draw[rstw] (rstB-pa) -- (t9);
\draw[rstw] (t9) -- (467.2,1166) -- (ov-rst);
\draw[rstw] (t9) -- (467.2,1114.3) -- (t10);
\draw[rstw] (vin-rs) -- (806.7,1270) -- (806.7,688.4) -- (t11) -- (t12) -- (smc-rs);
\draw[rstw] (vo1-rs) -- (1162.4,340.3) -- (t11);
\draw[rstw] (t12) -- (1553.7,558) -- (1867,558) -- (1867,1253.3) -- (vo0-rs);
\draw[rstw] (con-d) -- (1510.5,566.5) -- (1510.5,358.3) -- (ps-irq);
\draw[rstw] (rstH-pa) -- (dvi-rs);
\draw[rstw] (gpio-i) -- (1875.7,1018.3) -- (1875.7,1114.3) -- (2353,1114.3) -- (2353,1513.3) -- (r2l-o);
\draw[rstw] (gpio-o) -- (1127.6,1035.3) -- (1127.6,1027.4) -- (1901,1027.4) -- (1901,975) -- (2361.8,975) -- (2361.8,1548.6) -- (r2l-i);
\draw[rstw] (gpio-t) -- (1127.6,1053.3) -- (1127.6,1400.4) -- (2335.7,1400.4) -- (2335.7,1531.3) -- (r2l-t);
\draw[rstw] (vo0-d) -- (2344.4,1200.5) -- (2344.4,1409.2) -- (1893,1409.2) -- (1893,1513.3) -- (r2l-vd);
\draw[rstw] (pwm-o) -- (x-lbl);
\draw[rstw] (x-cd) -- (ov-dt);

% ---------- clock connectors ----------
\draw[clkw] (ps-ck0) -- (2344.4,366.3) -- (2344.4,36.3) -- (1927.3,36.3) -- (1927.3,1044.6) -- (pwm-ck);
\draw[clkw] (ps-gpck) -- (c1);
\draw[clkw] (i2c-ck) -- (c2);
\draw[clkw] (clk-ck) -- (c3);
\draw[clkw] (clk-in) -- (c4);
\draw[clkw] (c5) -- (1553.3,992.5) -- (1553.3,844.6) -- (lvt-ck);
\draw[clkw] (c6) -- (1145.4,957.5) -- (c7);
\draw[clkw] (lv-lck) -- (c8);
\draw[clkw] (dyn-ref) -- (780.6,123.3) -- (780.6,1027) -- (gpio-ck);
\draw[clkw] (dyn-ck) -- (c9);
\draw[clkw] (vtc-ck) -- (c10);
\draw[clkw] (hv-ck) -- (c12);
\draw[clkw] (c11) -- (467.3,505) -- (467.3,922.3) -- (axi-m8c);
\draw[clkw] (c13) -- (154.6,827.4) -- (154.6,888.4) -- (rstA-sl);
\draw[clkw] (ps-ck1) -- (2361.5,384.3) -- (2361.5,27.3) -- (1883.4,27.3) -- (1883.4,1218) -- (vo0-ck);
\draw[clkw] (ps-hpck) -- (c14);
\draw[clkw] (c15) -- (1527.5,549) -- (c16);
\draw[clkw] (smc-ck) -- (c16) -- (c17);
\draw[clkw] (vo1-ck) -- (1179.6,305) -- (1179.6,888) -- (lv-c4);
\draw[clkw] (lv-c1) -- (c19);
\draw[clkw] (lv-c2) -- (c20);
\draw[clkw] (lv-c3) -- (c21);
\draw[clkw] (c18) -- (797.4,479.3) -- (797.4,1235.3) -- (vin-ck);
\draw[clkw] (hv-ck2) -- (c23);
\draw[clkw] (hv-ck3) -- (c24);
\draw[clkw] (c22) -- (137.8,488.2) -- (137.8,1061) -- (rstB-sl);
\draw[clkw] (dvi-pclk) -- (1909.3,106.3) -- (1909.3,19.3) -- (1171.4,19.3) -- (1171.4,375.3) -- (vo1-clk);
\draw[clkw] (rstH-sl) -- (c25);
\draw[clkw] (dyn-px) -- (c26);
\draw[clkw] (c27) -- (806.6,210.3) -- (806.6,288.3) -- (vtc-clk);
\draw[clkw] (dyn-p5) -- (1136.7,132.3) -- (1136.7,201.3) -- (1553.6,201.3) -- (1553.6,184.3) -- (1875.4,184.3) -- (1875.4,123.3) -- (dvi-x5);
\draw[clkw] (dyn-lk) -- (1127.6,149.3) -- (1127.6,88.3) -- (rstH-ex);
\draw[clkw] (c28) -- (rstH-dc);
\draw[clkw] (vo1-vtg) -- (1510.3,305) -- (1510.3,219.3) -- (814.3,219.3) -- (814.3,358.3) -- (vtc-gen);
\draw[clkw] (vtc-irq) -- (1153.6,340.3) -- (1153.6,610.3) -- (con-i5);
\draw[clkw] (hv-irq) -- (1145.4,601.5) -- (1145.4,592) -- (con-i4);
\draw[clkw] (i2c-irq) -- (2335.7,583.6) -- (2335.7,462.3) -- (1188.3,462.3) -- (1188.3,523.3) -- (con-i0);
\draw[clkw] (lv-mi) -- (1510.5,879.3) -- (1510.5,705.5) -- (1188.3,705.5) -- (1188.3,540.5) -- (con-i1);
\draw[clkw] (lv-si) -- (1527.5,896.5) -- (1527.5,696.5) -- (1205.6,696.5) -- (1205.6,557) -- (con-i2);
\draw[clkw] (lvt-irq) -- (1848,862.2) -- (1848,471.5) -- (1197.4,471.5) -- (1197.4,575.2) -- (con-i3);
\draw[clkw] (ps-rn) -- (2344.4,401.3) -- (2344.4,809.4) -- (1892.4,809.4) -- (1892.4,983.4) -- (1127.6,983.4) -- (1127.6,948.3) -- (771.5,948.3) -- (771.5,992.5) -- (451,992.5) -- (451,835.5) -- (145.9,835.5) -- (145.9,1079) -- (rstB-ex);
\draw[clkw] (rstA-ex) -- (c29);
\draw[clkw] (lvt-clk) -- (1571.3,809.4) -- (1571.3,1001.4) -- (c30);
\draw[clkw] (clk-o) -- (x-lclk);
\draw[clkw] (c31) -- (2344.4,818.5) -- (1909.5,818.5) -- (1909.5,1287.4) -- (vo0-clk);
\draw[clkw] (lvt-gen) -- (1579.5,879.4) -- (1579.5,1392.3) -- (2335.7,1392.3) -- (2335.7,1253.3) -- (vo0-vtg);
\draw[clkw] (ov-fc) -- (813.8,1218.3) -- (813.8,1183.3) -- (vin-ck0);
\draw[clkw] (ov-fe) -- (762.6,1235.3) -- (762.6,1200.3) -- (vin-ce);
\draw[clkw] (x-cp) -- (ov-pc);
\draw[clkw] (x-cv) -- (ov-vs);
\draw[clkw] (x-ch) -- (ov-hr);
\draw[clkw] (vo0-de) -- (x-lde);
\draw[clkw] (vo0-hs) -- (x-lhs);
\draw[clkw] (vo0-vs) -- (x-lvs);
\end{tikzpicture}
\end{document}
